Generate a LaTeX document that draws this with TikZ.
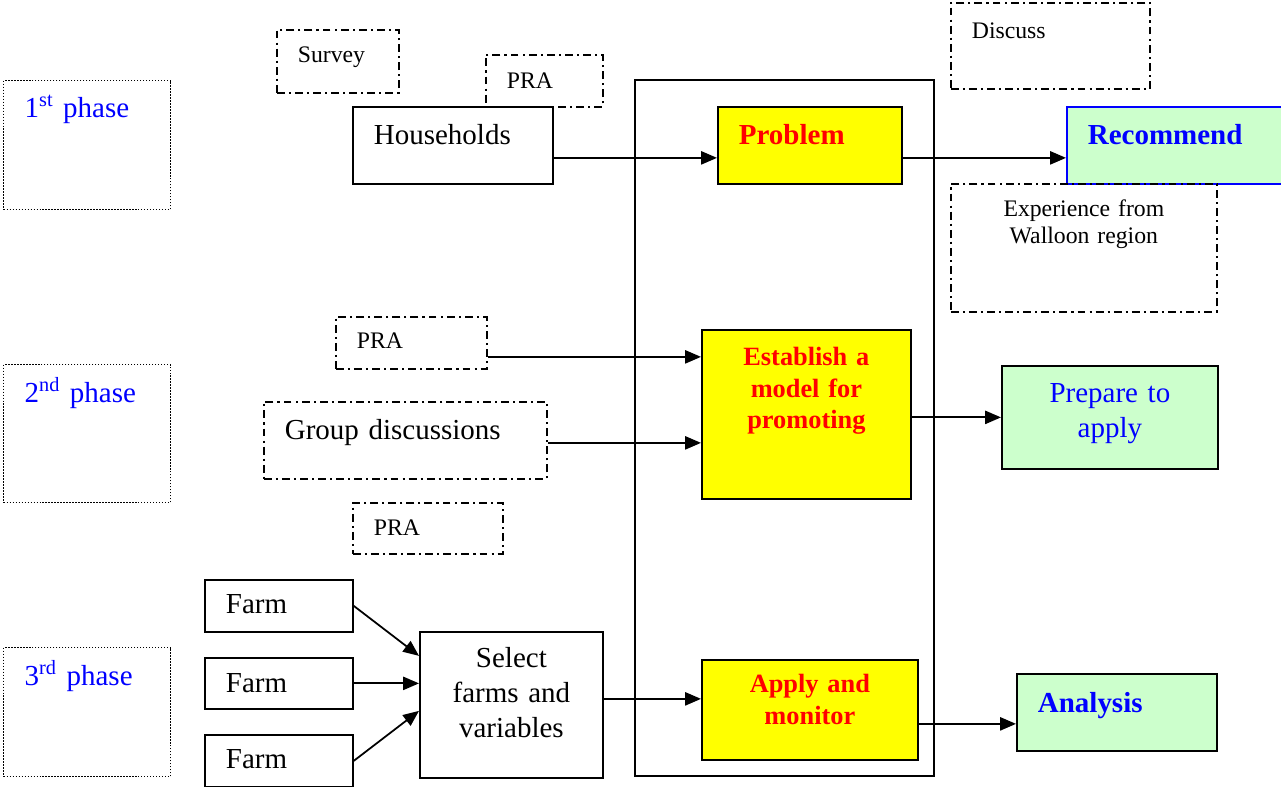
\documentclass[tikz,border=0pt]{standalone}
\usepackage{fontspec}
\setmainfont{Liberation Serif}
\usetikzlibrary{arrows.meta}
\definecolor{boxyellow}{RGB}{255,255,0}
\definecolor{boxgreen}{RGB}{204,255,204}
\definecolor{boxblue}{RGB}{0,0,255}
\definecolor{boxred}{RGB}{255,0,0}
\newcommand\bigtxt{\fontsize{16.5}{19.7}\selectfont}
\newcommand\smalltxt{\fontsize{13.5}{15.3}\selectfont}
\newcommand\redtxt{\fontsize{15}{17.9}\selectfont\bfseries}
\tikzset{
    base/.style={anchor=north west, inner xsep=0.42cm, inner ysep=0pt, line width=1pt, align=left},
    solidbox/.style={base, draw},
    dashbox/.style={base, draw, dash pattern=on 4.5pt off 2.3pt on 1.2pt off 2.3pt},
    phasebox/.style={base, draw, line width=0.75pt, dash pattern=on 0.8pt off 0.9pt, text=boxblue, font=\bigtxt},
    yellowbox/.style={solidbox, fill=boxyellow, text=boxred, font=\redtxt, align=center},
    greenbox/.style={solidbox, fill=boxgreen, text=boxblue},
    dims/.style n args={3}{text width=#1cm, text height=#2cm, text depth=#3cm},
    arr/.style={line width=1pt, -{Triangle[length=9pt,width=7.5pt]}}
}
\begin{document}
\begin{tikzpicture}
    \useasboundingbox (0,0) rectangle (25.62,-15.74);
    \draw[line width=1pt] (12.70,-1.60) rectangle (18.68,-15.52);
    \node[phasebox, dims={2.5}{0.74}{1.84}] (ph1) at (0.06,-1.60) {1\textsuperscript{st} phase};
    \node[phasebox, dims={2.5}{0.76}{2.0}] (ph2) at (0.06,-7.28) {2\textsuperscript{nd} phase};
    \node[phasebox, dims={2.5}{0.76}{1.82}] (ph3) at (0.06,-12.94) {3\textsuperscript{rd} phase};
    \node[dashbox, font=\smalltxt, dims={1.6}{0.66}{0.6}] (survey) at (5.52,-0.58) {Survey};
    \node[dashbox, font=\smalltxt, dims={1.5}{0.68}{0.36}] (pra1) at (9.70,-1.08) {PRA};
    \node[solidbox, fill=white, font=\bigtxt, dims={3.16}{0.76}{0.78}] (hh) at (7.04,-2.12) {Households};
    \node[yellowbox, align=left, font=\bigtxt\bfseries, dims={2.84}{0.76}{0.78}] (prob) at (14.34,-2.12) {Problem};
    \node[dashbox, font=\smalltxt, dims={3.14}{0.72}{1.0}] (disc) at (19.0,-0.04) {Discuss};
    \node[greenbox, draw=boxblue, font=\bigtxt\bfseries, dims={3.66}{0.76}{0.78}] (rec) at (21.32,-2.12) {Recommend};
    \node[dashbox, font=\smalltxt, align=center, dims={4.48}{0.66}{1.9}] (exp) at (19.0,-3.66) {Experience from\\Walloon region};
    \node[dashbox, font=\smalltxt, dims={2.18}{0.64}{0.40}] (pra2) at (6.70,-6.32) {PRA};
    \node[dashbox, font=\bigtxt, dims={4.82}{0.76}{0.78}] (grp) at (5.26,-8.02) {Group discussions};
    \node[yellowbox, dims={3.34}{0.72}{2.66}] (est) at (14.02,-6.58) {Establish a\\model for\\promoting};
    \node[greenbox, font=\bigtxt, align=center, dims={3.48}{0.74}{1.32}] (prep) at (20.02,-7.30) {Prepare to\\apply};
    \node[dashbox, font=\smalltxt, dims={2.16}{0.66}{0.36}] (pra3) at (7.04,-10.04) {PRA};
    \node[solidbox, font=\bigtxt, dims={2.12}{0.68}{0.36}] (f1) at (4.08,-11.58) {Farm};
    \node[solidbox, font=\bigtxt, dims={2.12}{0.70}{0.32}] (f2) at (4.08,-13.14) {Farm};
    \node[solidbox, font=\bigtxt, dims={2.12}{0.68}{0.36}] (f3) at (4.08,-14.68) {Farm};
    \node[solidbox, font=\bigtxt, align=center, dims={2.82}{0.72}{2.20}] (sel) at (8.38,-12.62) {Select\\farms and\\variables};
    \node[yellowbox, dims={3.48}{0.66}{1.34}] (app) at (14.02,-13.18) {Apply and\\monitor};
    \node[greenbox, font=\bigtxt\bfseries, dims={3.16}{0.78}{0.76}] (ana) at (20.32,-13.46) {Analysis};
    \draw[arr] ([yshift=-0.25cm]hh.east) -- ([yshift=-0.25cm]prob.west);
    \draw[arr] ([yshift=-0.25cm]prob.east) -- ([yshift=-0.25cm]rec.west);
    \draw[arr] ([yshift=-0.28cm]pra2.east) -- ([yshift=-0.28cm]pra2.east -| est.west);
    \draw[arr] ([yshift=-0.05cm]grp.east) -- ([yshift=-0.05cm]grp.east -| est.west);
    \draw[arr] (est.east |- prep.west) -- (prep.west);
    \draw[arr] (f1.east) -- ([yshift=0.98cm]sel.west);
    \draw[arr] (f2.east) -- (f2.east -| sel.west);
    \draw[arr] (f3.east) -- ([yshift=-0.12cm]sel.west);
    \draw[arr] ([yshift=0.12cm]sel.east) -- ([yshift=0.12cm]sel.east -| app.west);
    \draw[arr] ([yshift=-0.28cm]app.east) -- ([yshift=-0.28cm]app.east -| ana.west);
\end{tikzpicture}
\end{document}
